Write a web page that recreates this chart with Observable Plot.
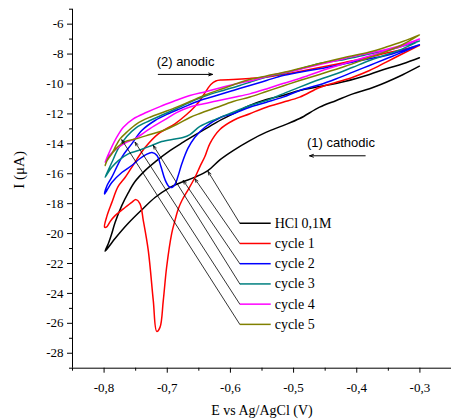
<!DOCTYPE html>
<html><head><meta charset="utf-8">
<script src="https://cdn.jsdelivr.net/npm/d3@7"></script>
<script src="https://cdn.jsdelivr.net/npm/@observablehq/plot@0.6"></script>
<style>html,body{margin:0;padding:0;background:#fff}</style>
</head><body><div id="chart"></div>
<script>
// ---- data: E (V vs Ag/AgCl), I (µA); cathodic sweep then anodic sweep ----
const seriesNames = ["HCl 0,1M", "cycle 1", "cycle 2", "cycle 3", "cycle 4", "cycle 5"];
const seriesColors = ["#000000", "#ff0000", "#0000ff", "#008080", "#ff00ff", "#808000"];

const hcl = [
  [-0.3008,-8.81],[-0.3272,-9.38],[-0.3534,-9.88],[-0.3798,-10.32],[-0.4062,-10.66],[-0.4323,-11.10],[-0.4588,-11.55],[-0.4904,-12.31],[-0.5167,-12.78],[-0.5430,-13.22],[-0.5693,-13.78],[-0.5957,-14.45],[-0.6167,-15.07],[-0.6357,-15.79],[-0.6562,-16.23],[-0.6773,-16.57],[-0.6989,-16.99],[-0.7194,-17.59],[-0.7400,-18.40],[-0.7621,-19.33],[-0.7826,-20.33],[-0.7984,-21.18],
  [-0.7932,-20.67],[-0.7878,-20.00],[-0.7826,-19.26],[-0.7720,-18.13],[-0.7616,-17.26],[-0.7510,-16.52],[-0.7352,-15.79],[-0.7167,-15.12],[-0.6957,-14.45],[-0.6747,-13.89],[-0.6483,-13.22],[-0.6220,-12.56],[-0.5957,-11.99],[-0.5693,-11.44],[-0.5430,-11.04],[-0.5168,-10.77],[-0.4904,-10.43],[-0.4588,-10.17],[-0.4193,-9.83],[-0.3798,-9.36],[-0.3534,-8.98],[-0.3270,-8.65],[-0.3008,-8.25]
];
const cycle1 = [
  [-0.3008,-7.42],[-0.3275,-7.98],[-0.3534,-8.54],[-0.3798,-9.10],[-0.4062,-9.55],[-0.4323,-9.88],[-0.4588,-10.23],[-0.4904,-10.88],[-0.5168,-11.22],[-0.5430,-11.55],[-0.5693,-11.99],[-0.5957,-12.44],[-0.6167,-13.04],[-0.6325,-13.98],[-0.6404,-14.85],[-0.6483,-15.52],[-0.6562,-16.25],[-0.6668,-17.06],[-0.6768,-17.79],[-0.6823,-18.33],[-0.6878,-19.13],[-0.6930,-20.00],[-0.7010,-22.25],[-0.7063,-24.48],[-0.7115,-26.27],[-0.7167,-26.54],[-0.7221,-24.48],[-0.7300,-21.14],[-0.7379,-19.13],[-0.7431,-18.01],[-0.7494,-17.73],[-0.7562,-17.91],[-0.7695,-18.35],[-0.7826,-18.80],[-0.7905,-19.20],[-0.7953,-19.53],[-0.7992,-19.57],
  [-0.7953,-18.80],[-0.7878,-17.93],[-0.7779,-16.86],[-0.7668,-16.25],[-0.7562,-15.57],[-0.7352,-14.25],[-0.7142,-13.33],[-0.6878,-12.66],[-0.6694,-12.04],[-0.6562,-11.50],[-0.6483,-11.10],[-0.6378,-10.43],[-0.6310,-10.03],[-0.6231,-9.80],[-0.6136,-9.73],[-0.5957,-9.70],[-0.5693,-9.63],[-0.5430,-9.53],[-0.5168,-9.36],[-0.4904,-9.16],[-0.4588,-8.90],[-0.4193,-8.56],[-0.3798,-8.21],[-0.3534,-7.93],[-0.3270,-7.69],[-0.3008,-7.42]
];
const cycle2 = [
  [-0.3008,-7.38],[-0.3275,-7.87],[-0.3534,-8.31],[-0.3798,-8.76],[-0.4062,-9.21],[-0.4323,-9.65],[-0.4588,-10.05],[-0.4904,-10.43],[-0.5168,-10.88],[-0.5430,-11.22],[-0.5693,-11.55],[-0.5957,-11.99],[-0.6141,-12.21],[-0.6404,-12.89],[-0.6562,-13.56],[-0.6673,-14.31],[-0.6768,-15.32],[-0.6831,-16.19],[-0.6878,-16.72],[-0.6926,-16.92],[-0.6973,-16.86],[-0.7036,-16.39],[-0.7100,-15.52],[-0.7163,-14.78],[-0.7242,-14.58],[-0.7336,-14.72],[-0.7431,-14.98],[-0.7562,-15.45],[-0.7720,-15.92],[-0.7878,-16.59],[-0.7957,-17.12],[-0.7992,-17.36],
  [-0.7953,-16.79],[-0.7878,-16.23],[-0.7720,-14.90],[-0.7562,-14.00],[-0.7404,-13.11],[-0.7194,-12.44],[-0.6984,-11.99],[-0.6773,-11.61],[-0.6483,-11.10],[-0.6220,-10.77],[-0.5957,-10.43],[-0.5693,-10.10],[-0.5430,-9.77],[-0.5168,-9.43],[-0.4904,-9.21],[-0.4588,-8.98],[-0.4193,-8.65],[-0.3798,-8.31],[-0.3534,-8.09],[-0.3270,-7.76],[-0.3008,-7.38]
];
const cycle3 = [
  [-0.3008,-7.12],[-0.3275,-7.65],[-0.3534,-8.05],[-0.3798,-8.43],[-0.4062,-8.88],[-0.4323,-9.32],[-0.4588,-9.70],[-0.4904,-10.21],[-0.5168,-10.66],[-0.5430,-11.10],[-0.5693,-11.44],[-0.5957,-11.89],[-0.6220,-12.33],[-0.6483,-12.84],[-0.6641,-13.38],[-0.6752,-13.58],[-0.6878,-13.68],[-0.7088,-13.85],[-0.7246,-14.11],[-0.7458,-14.45],[-0.7616,-14.67],[-0.7774,-15.12],[-0.7878,-15.57],[-0.7957,-16.05],[-0.7984,-16.23],
  [-0.7937,-15.79],[-0.7878,-15.25],[-0.7774,-14.31],[-0.7641,-13.51],[-0.7490,-12.91],[-0.7273,-12.44],[-0.7063,-12.04],[-0.6853,-11.64],[-0.6641,-11.22],[-0.6378,-10.77],[-0.6115,-10.43],[-0.5852,-10.10],[-0.5693,-9.88],[-0.5430,-9.53],[-0.5168,-9.30],[-0.4904,-9.00],[-0.4588,-8.63],[-0.4193,-8.36],[-0.3798,-7.99],[-0.3534,-7.76],[-0.3270,-7.46],[-0.3008,-7.12]
];
const cycle4 = [
  [-0.3008,-6.99],[-0.3272,-7.46],[-0.3534,-7.79],[-0.3798,-8.13],[-0.4193,-8.63],[-0.4588,-9.16],[-0.4904,-9.63],[-0.5167,-9.97],[-0.5430,-10.33],[-0.5693,-10.66],[-0.5957,-10.90],[-0.6220,-11.14],[-0.6483,-11.37],[-0.6641,-11.54],[-0.6852,-11.91],[-0.7009,-12.31],[-0.7273,-12.98],[-0.7510,-13.65],[-0.7668,-13.95],[-0.7779,-14.25],[-0.7874,-14.58],[-0.7953,-14.98],[-0.7984,-15.23],
  [-0.7905,-14.45],[-0.7799,-13.56],[-0.7695,-12.89],[-0.7537,-12.33],[-0.7325,-11.89],[-0.7115,-11.51],[-0.6905,-11.17],[-0.6641,-10.77],[-0.6378,-10.50],[-0.6115,-10.20],[-0.5851,-9.93],[-0.5693,-9.80],[-0.5425,-9.50],[-0.5167,-9.26],[-0.4904,-9.03],[-0.4588,-8.70],[-0.4193,-8.29],[-0.3798,-7.93],[-0.3534,-7.69],[-0.3272,-7.39],[-0.3008,-6.99]
];
const cycle5 = [
  [-0.3008,-6.72],[-0.3272,-7.36],[-0.3534,-7.83],[-0.3798,-8.23],[-0.4193,-8.83],[-0.4588,-9.36],[-0.4904,-9.77],[-0.5167,-10.13],[-0.5430,-10.50],[-0.5693,-10.87],[-0.5957,-11.17],[-0.6220,-11.57],[-0.6483,-11.97],[-0.6641,-12.24],[-0.6852,-12.71],[-0.7063,-13.11],[-0.7273,-13.38],[-0.7510,-13.68],[-0.7668,-13.85],[-0.7779,-14.18],[-0.7874,-14.65],[-0.7953,-15.12],[-0.7984,-15.45],
  [-0.7937,-14.98],[-0.7878,-14.67],[-0.7810,-14.11],[-0.7747,-13.67],[-0.7641,-13.22],[-0.7483,-12.66],[-0.7273,-12.22],[-0.7063,-11.89],[-0.6852,-11.55],[-0.6641,-11.17],[-0.6378,-10.70],[-0.6115,-10.30],[-0.5851,-9.90],[-0.5693,-9.70],[-0.5430,-9.46],[-0.5167,-9.23],[-0.4904,-8.96],[-0.4588,-8.63],[-0.4193,-8.23],[-0.3798,-7.86],[-0.3534,-7.53],[-0.3272,-7.16],[-0.3008,-6.72]
];
const seriesData = [hcl, cycle1, cycle2, cycle3, cycle4, cycle5];

// ticks
const xMajor = [-0.8, -0.7, -0.6, -0.5, -0.4, -0.3];
const xMinor = [-0.85, -0.75, -0.65, -0.55, -0.45, -0.35, -0.25];
const yMajor = [-28, -26, -24, -22, -20, -18, -16, -14, -12, -10, -8, -6];
const yMinor = [-29, -27, -25, -23, -21, -19, -17, -15, -13, -11, -9, -7, -5];

// annotation anchors (data units): points on curves the legend leaders indicate
const leaderTips = [[-0.6354,-15.85],[-0.6562,-16.34],[-0.6747,-16.45],[-0.7221,-14.11],[-0.7510,-13.89],[-0.7720,-13.73]];
const legendTop = -19.31, legendStep = 1.352;
const legendX1 = -0.5851, legendX2 = -0.5362, legendTextX = -0.5299;

const legendRows = seriesNames.map((name, i) => ({
  name, color: seriesColors[i], y: legendTop - i * legendStep,
  tx: leaderTips[i][0], ty: leaderTips[i][1]
}));

const fmtX = d => d.toFixed(1).replace(".", ",");
const fmtY = d => String(d);

const marks = [
  Plot.ruleX([-0.85], {stroke: "black", strokeWidth: 1}),
  Plot.ruleY([-29], {stroke: "black", strokeWidth: 1}),
  Plot.axisX({ticks: xMajor, tickSize: 5, tickPadding: 9.5, tickFormat: fmtX, fontSize: 13, label: null}),
  Plot.axisX({ticks: xMinor, tickSize: 3, tickFormat: () => "", label: null}),
  Plot.axisY({ticks: yMajor, tickSize: 5, tickPadding: 4, tickFormat: fmtY, fontSize: 13, label: null}),
  Plot.axisY({ticks: yMinor, tickSize: 3, tickFormat: () => "", label: null}),
  ...seriesData.map((d, i) => Plot.line(d, {x: p => p[0], y: p => p[1], stroke: seriesColors[i], strokeWidth: 1.5, curve: "catmull-rom"})),
  // legend leaders
  Plot.arrow(legendRows, {x1: legendX1, y1: "y", x2: "tx", y2: "ty", stroke: "black", strokeWidth: 0.8, headLength: 7, headAngle: 40}),
  Plot.link(legendRows, {x1: legendX1, x2: legendX2, y1: "y", y2: "y", stroke: "color", strokeWidth: 1.5}),
  Plot.text(legendRows, {x: legendTextX, y: "y", text: "name", textAnchor: "start", fontSize: 14, fill: "black"}),
  // sweep direction annotations
  Plot.text(["(2) anodic"], {x: -0.7168, y: -8.55, text: d => d, textAnchor: "start", fontFamily: "Liberation Sans", fontSize: 13, fill: "black"}),
  Plot.arrow([0], {x1: -0.7142, x2: -0.6284, y1: -9.36, y2: -9.36, stroke: "black", strokeWidth: 1, headLength: 6, headAngle: 40}),
  Plot.text(["(1) cathodic"], {x: -0.4788, y: -13.9, text: d => d, textAnchor: "start", fontFamily: "Liberation Sans", fontSize: 13, fill: "black"}),
  Plot.arrow([0], {x1: -0.3866, x2: -0.4746, y1: -14.8, y2: -14.8, stroke: "black", strokeWidth: 1, headLength: 6, headAngle: 40}),
  // axis titles
  Plot.text(["E vs Ag/AgCl (V)"], {frameAnchor: "bottom", dy: 46.5, text: d => d, fontSize: 14, fill: "black"}),
  Plot.text(["I (\u03bcA)"], {frameAnchor: "left", dx: -53, rotate: -90, text: d => d, fontSize: 15, fill: "black"})
];

const chart = Plot.plot({
  width: 451, height: 420,
  marginLeft: 72, marginRight: 0, marginTop: 8.7, marginBottom: 52.3,
  x: {domain: [-0.85, -0.25]},
  y: {domain: [-29, -5]},
  style: {fontFamily: "'Liberation Serif', 'Times New Roman', serif", fontSize: "13px", background: "white", color: "black", overflow: "visible"},
  marks
});
document.getElementById("chart").appendChild(chart);
</script>
</body></html>
